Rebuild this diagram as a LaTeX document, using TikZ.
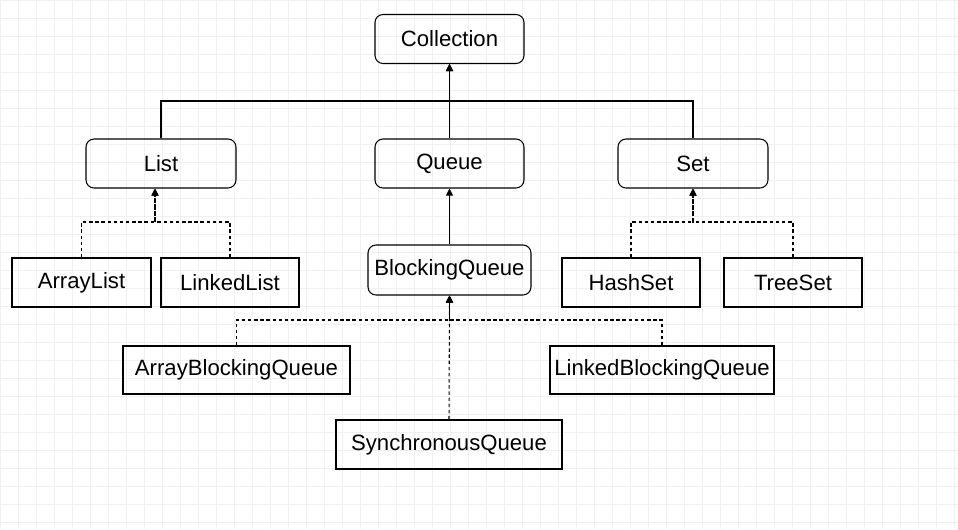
\documentclass[tikz,border=0pt]{standalone}
\usepackage{fontspec}
\setmainfont{Liberation Sans}
\usetikzlibrary{arrows.meta}
\tikzset{
  box/.style = {draw, line width=0.6pt, minimum height=0.98cm, inner sep=0pt,
    font=\fontsize{12.6}{14}\selectfont},
  rbox/.style = {box, rounded corners=1.6mm},
  link/.style = {line width=0.6pt, -{Triangle[width=4pt,length=4pt]}},
  dlink/.style = {link, dash pattern=on 2pt off 1.5pt},
}
\begin{document}
\begin{tikzpicture}[x=0.02cm, y=-0.02cm]
  \useasboundingbox (0,0) rectangle (958,529);
  %% background grid
  \foreach \gx in {0,18,...,958} {
    \draw [gray!12, line width=0.3pt] (\gx,0) -- (\gx,529);
  }
  \foreach \gy in {0,18,...,529} {
    \draw [gray!12, line width=0.3pt] (0,\gy) -- (958,\gy);
  }
  %% interfaces
  \node [rbox, minimum width=2.98cm] (collection) at (449.5,39) {Collection};
  \node [rbox, minimum width=3cm] (list) at (161,163.5) {List};
  \node [rbox, minimum width=2.98cm] (queue) at (449.5,163.5) {Queue};
  \node [rbox, minimum width=3cm] (set) at (693,163.5) {Set};
  \node [rbox, minimum width=3.26cm, minimum height=1cm] (bqueue) at (449.5,270) {BlockingQueue};
  %% classes
  \node [box, minimum width=2.78cm] (arraylist) at (81.5,282.5) {ArrayList};
  \node [box, minimum width=2.76cm] (linkedlist) at (230,282.5) {LinkedList};
  \node [box, minimum width=2.76cm] (hashset) at (631,282.5) {HashSet};
  \node [box, minimum width=2.76cm] (treeset) at (793,282.5) {TreeSet};
  \node [box, minimum width=4.54cm, minimum height=0.96cm] (abq) at (236.5,370) {ArrayBlockingQueue};
  \node [box, minimum width=4.48cm, minimum height=0.96cm] (lbq) at (662,370) {LinkedBlockingQueue};
  \node [box, minimum width=4.52cm] (sq) at (449,444.5) {SynchronousQueue};
  %% inheritance
  \draw [link] (list.north) |- (449.5,101) -- (collection.south);
  \draw [link] (set.north) |- (449.5,101) -- (collection.south);
  \draw [link] (queue.north) -- (collection.south);
  \draw [link] (bqueue.north) -- (queue.south);
  %% implementations
  \draw [dlink] (arraylist.north) |- (155,222) -- (list.south -| 155,0);
  \draw [dlink] (linkedlist.north) |- (155,222) -- (list.south -| 155,0);
  \draw [dlink] (hashset.north) |- (693,222) -- (set.south);
  \draw [dlink] (treeset.north) |- (693,222) -- (set.south);
  \draw [dlink] (abq.north) |- (449.5,320) -- (bqueue.south);
  \draw [dlink] (lbq.north) |- (449.5,320) -- (bqueue.south);
  \draw [dlink] (sq.north) -- (bqueue.south);
\end{tikzpicture}
\end{document}
